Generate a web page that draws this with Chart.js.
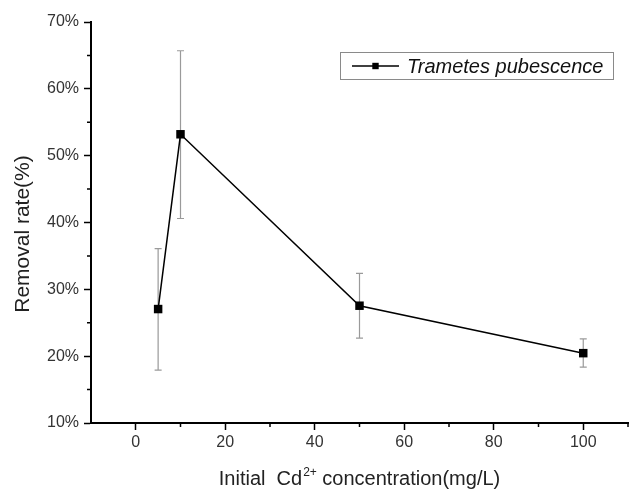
<!DOCTYPE html>
<html>
<head>
<meta charset="utf-8">
<script src="https://cdn.jsdelivr.net/npm/chart.js@4/dist/chart.umd.min.js"></script>
<style>
html,body{margin:0;padding:0;background:#fff;}
#wrap{width:637px;height:496px;position:relative;}
</style>
</head>
<body>
<div id="wrap"><canvas id="c" width="637" height="496"></canvas></div>
<script>
// ---- data ----
const concentrations = [5, 10, 50, 100];
const removalRate = [27.05, 53.2, 27.55, 20.45];
const errorLow = [17.9, 40.6, 22.7, 18.35];
const errorHigh = [36.1, 65.7, 32.4, 22.6];
const seriesName = 'Trametes pubescence';
const xTickValues = [0, 20, 40, 60, 80, 100];
const yTickValues = [10, 20, 30, 40, 50, 60, 70];
const xTitleParts = ['Initial  Cd', '2+', ' concentration(mg/L)'];
const yTitle = 'Removal rate(%)';
const xMin = -10, xMax = 110;
const yMin = 10, yMax = 70;

const FONT = '"Liberation Sans", Arial, sans-serif';

const points = concentrations.map((x, i) => ({x: x, y: removalRate[i]}));

const errorBarPlugin = {
  id: 'errorBars',
  beforeDatasetsDraw(chart) {
    const ctx = chart.ctx, xs = chart.scales.x, ys = chart.scales.y;
    ctx.save();
    ctx.strokeStyle = '#9a9a9a';
    ctx.lineWidth = 1.2;
    concentrations.forEach((c, i) => {
      const px = xs.getPixelForValue(c);
      const top = ys.getPixelForValue(errorHigh[i]);
      const bot = ys.getPixelForValue(errorLow[i]);
      ctx.beginPath();
      ctx.moveTo(px, top); ctx.lineTo(px, bot);
      ctx.moveTo(px - 3.5, top); ctx.lineTo(px + 3.5, top);
      ctx.moveTo(px - 3.5, bot); ctx.lineTo(px + 3.5, bot);
      ctx.stroke();
    });
    ctx.restore();
  }
};

const minorTickPlugin = {
  id: 'minorTicks',
  afterDraw(chart) {
    const ctx = chart.ctx, xs = chart.scales.x, ys = chart.scales.y;
    const area = chart.chartArea;
    ctx.save();
    ctx.strokeStyle = '#000';
    ctx.lineWidth = 1.5;
    ctx.beginPath();
    for (let i = 0; i < xTickValues.length - 1; i++) {
      const px = xs.getPixelForValue((xTickValues[i] + xTickValues[i + 1]) / 2);
      ctx.moveTo(px, area.bottom); ctx.lineTo(px, area.bottom + 4);
    }
    const lastX = xs.getPixelForValue(xMax);
    ctx.moveTo(lastX, area.bottom); ctx.lineTo(lastX, area.bottom + 4);
    for (let i = 0; i < yTickValues.length - 1; i++) {
      const py = ys.getPixelForValue((yTickValues[i] + yTickValues[i + 1]) / 2);
      ctx.moveTo(area.left, py); ctx.lineTo(area.left - 4, py);
    }
    ctx.stroke();
    ctx.restore();
  }
};

const titlePlugin = {
  id: 'axisTitles',
  afterDraw(chart) {
    const ctx = chart.ctx;
    ctx.save();
    ctx.fillStyle = '#222';
    // y title
    ctx.font = '21px ' + FONT;
    ctx.textAlign = 'center';
    ctx.textBaseline = 'middle';
    ctx.translate(23, 234);
    ctx.rotate(-Math.PI / 2);
    ctx.fillText(yTitle, 0, 0);
    ctx.setTransform(1, 0, 0, 1, 0, 0);
    // x title with superscript
    const big = '20px ' + FONT, small = '12px ' + FONT;
    ctx.textBaseline = 'alphabetic';
    ctx.textAlign = 'left';
    ctx.font = big; const w1 = ctx.measureText(xTitleParts[0]).width;
    ctx.font = small; const w2 = ctx.measureText(xTitleParts[1]).width;
    ctx.font = big; const w3 = ctx.measureText(xTitleParts[2]).width;
    let x = 359 - (w1 + w2 + w3) / 2;
    const base = 485;
    ctx.font = big; ctx.fillText(xTitleParts[0], x, base); x += w1 + 1;
    ctx.font = small; ctx.fillText(xTitleParts[1], x, base - 9); x += w2;
    ctx.font = big; ctx.fillText(xTitleParts[2], x, base);
    ctx.restore();
  }
};

const legendPlugin = {
  id: 'boxLegend',
  afterDraw(chart) {
    const ctx = chart.ctx;
    ctx.save();
    const bx = 340.5, by = 52.5, bw = 273, bh = 27;
    ctx.strokeStyle = '#8a8a8a';
    ctx.lineWidth = 1;
    ctx.strokeRect(bx, by, bw, bh);
    const ly = by + bh / 2;
    ctx.strokeStyle = '#000';
    ctx.lineWidth = 1.5;
    ctx.beginPath();
    ctx.moveTo(352, ly); ctx.lineTo(399, ly);
    ctx.stroke();
    ctx.fillStyle = '#000';
    ctx.fillRect(375.5 - 3.2, ly - 3.2, 6.4, 6.4);
    ctx.fillStyle = '#111';
    ctx.font = 'italic 20px ' + FONT;
    ctx.textBaseline = 'middle';
    ctx.textAlign = 'left';
    ctx.fillText(chart.data.datasets[0].label, 407, ly + 1);
    ctx.restore();
  }
};

new Chart(document.getElementById('c'), {
  type: 'scatter',
  data: {
    datasets: [{
      label: seriesName,
      data: points,
      showLine: true,
      borderColor: '#000',
      borderWidth: 1.5,
      backgroundColor: '#000',
      pointStyle: 'rect',
      pointRadius: 6,
      pointBorderWidth: 0,
      pointHoverRadius: 6
    }]
  },
  options: {
    responsive: false,
    animation: false,
    devicePixelRatio: 1,
    layout: {padding: {left: 0, top: 22, right: 9, bottom: 0}},
    plugins: {legend: {display: false}, tooltip: {enabled: false}},
    scales: {
      x: {
        type: 'linear',
        min: xMin, max: xMax,
        afterBuildTicks(s) { s.ticks = xTickValues.map(v => ({value: v})); },
        afterFit(s) { s.height = 73; },
        ticks: {
          color: '#333',
          font: {family: FONT, size: 16},
          padding: 3,
          maxRotation: 0,
          autoSkip: false,
          callback: (v) => v
        },
        grid: {display: true, drawOnChartArea: false, drawTicks: true, tickLength: 7, tickColor: '#000', tickWidth: 1.5},
        border: {display: true, color: '#000', width: 2}
      },
      y: {
        type: 'linear',
        min: yMin, max: yMax,
        afterBuildTicks(s) { s.ticks = yTickValues.map(v => ({value: v})); },
        afterFit(s) { s.width = 91; },
        ticks: {
          color: '#333',
          font: {family: FONT, size: 16},
          padding: 5,
          autoSkip: false,
          callback: (v) => v + '%'
        },
        grid: {display: true, drawOnChartArea: false, drawTicks: true, tickLength: 7, tickColor: '#000', tickWidth: 1.5},
        border: {display: true, color: '#000', width: 2}
      }
    }
  },
  plugins: [errorBarPlugin, minorTickPlugin, titlePlugin, legendPlugin]
});
</script>
</body>
</html>
